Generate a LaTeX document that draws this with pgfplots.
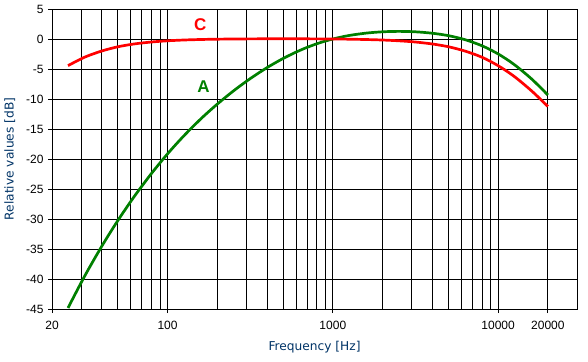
\documentclass[border=0pt]{standalone}
\usepackage{fontspec}
\setmainfont{Liberation Sans}
\newfontfamily\labfont{DejaVu Sans}
\usepackage{pgfplots}
\pgfplotsset{compat=1.18}
\definecolor{labblue}{RGB}{0,51,102}
\definecolor{agreen}{RGB}{0,128,0}
\definecolor{cred}{RGB}{255,0,0}
\begin{document}
\begin{tikzpicture}[x=1pt,y=1pt]
\begin{axis}[
  scale only axis,
  width=525pt, height=300pt,
  xmode=log, xmin=20, xmax=30000,
  ymin=-45, ymax=5,
  xtick={20,100,1000,10000,20000},
  xticklabels={20,100,1000,10000,20000},
  minor xtick={30,40,50,60,70,80,90,200,300,400,500,600,700,800,900,2000,3000,4000,5000,6000,7000,8000,9000},
  ytick={-45,-40,-35,-30,-25,-20,-15,-10,-5,0,5},
  yticklabels={-45,-40,-35,-30,-25,-20,-15,-10,-5,0,5},
  grid=both,
  major grid style={black, line width=0.9pt},
  minor grid style={black, line width=0.9pt},
  axis line style={black, line width=0.9pt},
  tick style={black, line width=0.9pt},
  minor tick length=0pt,
  major tick length=4pt,
  tick align=outside,
  tick pos=left,
  ticklabel style={font=\fontsize{12}{13}\selectfont, text=black},
  xticklabel style={yshift=-5pt},
  yticklabel style={xshift=-1pt},
  xlabel={Frequency [Hz]},
  ylabel={Relative values [dB]},
  label style={font=\labfont\fontsize{12.2}{14}\selectfont, text=labblue},
  xlabel style={yshift=-4pt},
  ylabel style={yshift=4pt},
  clip=false,
]
\addplot[agreen, line width=2.7pt, smooth] coordinates {
(25,-44.82) (31.5,-39.53) (40,-34.54) (50,-30.27) (63,-26.22) (80,-22.40) (100,-19.14)
(125,-16.19) (160,-13.24) (200,-10.85) (250,-8.67) (315,-6.64) (400,-4.77) (500,-3.25)
(630,-1.91) (800,-0.79) (1000,0) (1250,0.58) (1600,0.99) (2000,1.20) (2500,1.27)
(3150,1.20) (4000,0.96) (5000,0.56) (6300,-0.11) (8000,-1.14) (10000,-2.49)
(12500,-4.25) (16000,-6.70) (20000,-9.34)
};
\addplot[cred, line width=2.7pt, smooth] coordinates {
(25,-4.44) (31.5,-3.03) (40,-2.00) (50,-1.30) (63,-0.82) (80,-0.50) (100,-0.30)
(125,-0.17) (160,-0.08) (200,-0.03) (250,0) (315,0.02) (400,0.03) (500,0.03) (630,0.03) (800,0.02)
(1000,0) (1250,-0.03) (1600,-0.09) (2000,-0.17) (2500,-0.30) (3150,-0.50) (4000,-0.83)
(5000,-1.29) (6300,-2.01) (8000,-3.05) (10000,-4.45) (12500,-6.23) (16000,-8.69)
(20000,-11.25)
};
\node[text=cred, font=\fontsize{17}{19}\selectfont\bfseries] at (axis cs:158,2.4) {C};
\node[text=agreen, font=\fontsize{17}{19}\selectfont\bfseries] at (axis cs:165,-8.0) {A};
\end{axis}
\pgfresetboundingbox
\path[use as bounding box] ([xshift=-52pt,yshift=-52pt]current axis.south west) rectangle ([xshift=11pt,yshift=9pt]current axis.north east);
\end{tikzpicture}
\end{document}
